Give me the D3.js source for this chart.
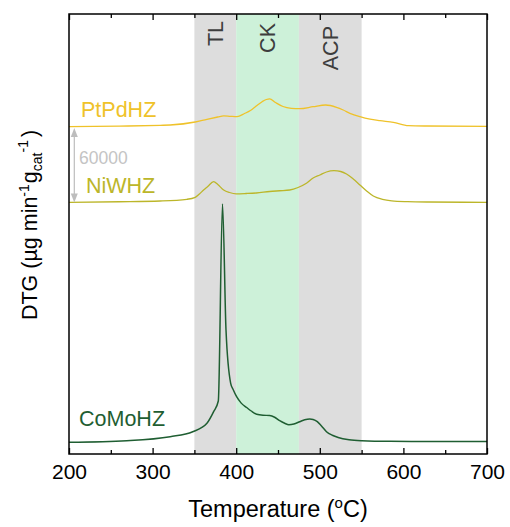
<!DOCTYPE html>
<html>
<head>
<meta charset="utf-8">
<script src="https://cdn.jsdelivr.net/npm/d3@7"></script>
<style>
  html, body { margin: 0; padding: 0; background: #fff; }
  svg { display: block; font-family: "Liberation Sans", Arial, sans-serif; }
</style>
</head>
<body>
<svg id="chart" width="510" height="527"></svg>
<script>
// Temperature regions (°C)
const regionNames = ["TL", "CK", "ACP"];
const regionStart = [350, 400, 475];
const regionEnd   = [400, 475, 550];

// DTG traces, µg min^-1 g_cat^-1 (temperature, value)
const coMoT = [200, 269, 321, 348, 365, 373, 378.6, 383.6, 387.8, 393.4, 396.6, 400.5, 406, 412.5, 418, 424.5, 432, 440, 446, 452, 458, 463, 469, 476, 482, 488, 492, 497, 502, 508, 515, 522, 535, 550, 584, 640, 700];
const coMoV = [160, 1440, 4640, 8640, 15360, 24640, 33200, 190800, 90000, 47360, 42000, 36640, 31500, 28000, 25200, 22560, 21800, 21600, 20200, 17440, 15400, 14240, 14800, 16640, 18200, 18800, 18400, 16640, 13200, 8640, 5800, 4000, 2200, 1440, 960, 850, 800];

const niWT = [200, 260, 309, 341, 351, 356, 361, 366, 373, 378, 385, 392, 400, 412, 424, 440, 452, 464, 474, 484, 492, 500, 508, 517, 525, 532, 540, 548, 556, 564, 575, 586, 605, 630, 700];
const niWV = [160, 600, 1200, 2560, 4160, 6800, 10000, 12800, 16640, 14400, 10000, 8000, 6960, 7200, 7600, 8800, 9400, 10000, 12000, 15360, 19600, 22000, 24400, 25440, 24800, 22800, 18800, 14000, 9200, 5200, 2560, 1360, 700, 400, 160];

const ptPdT = [200, 260, 309, 321, 351, 365, 378, 385, 393, 401, 410, 417, 424, 431, 436, 440, 447, 456, 466, 476, 492, 507, 520, 528, 536, 548, 560, 572, 588, 606, 628, 700];
const ptPdV = [640, 1100, 1760, 2000, 4400, 6560, 8400, 9360, 8960, 8640, 11200, 13600, 17200, 20640, 22400, 22960, 20000, 16800, 15360, 15040, 16640, 18000, 16160, 14000, 11360, 8640, 6640, 5440, 4160, 1440, 1200, 960];

const seriesNames = ["PtPdHZ", "NiWHZ", "CoMoHZ"];
const seriesT = [ptPdT, niWT, coMoT];
const seriesV = [ptPdV, niWV, coMoV];
const seriesOffset = [252000, 192000, 0];
const scaleBarValue = 60000;

const xTicks = [200, 300, 400, 500, 600, 700];
const xMinorTicks = [250, 350, 450, 550, 650];

// ---- styling / layout ----
const colors = ["#efc22a", "#bcb62a", "#1f5e32"];
const widths = [1.3, 1.3, 1.5];
const regionFill = ["#dddddd", "#cdf1d9", "#dddddd"];
const margin = { left: 69, top: 14, right: 23, bottom: 73 };
const W = 510, H = 527;
const pw = W - margin.left - margin.right;
const ph = H - margin.top - margin.bottom;

const svg = d3.select("#chart");
const g = svg.append("g").attr("transform", `translate(${margin.left},${margin.top})`);

const x = d3.scaleLinear().domain([200, 700]).range([0, pw]);
const y = d3.scaleLinear().domain([-9200, 342800]).range([ph, 0]);

// shaded regions
g.selectAll("rect.region")
  .data(regionNames)
  .join("rect")
  .attr("class", "region")
  .attr("x", (d, i) => x(regionStart[i]))
  .attr("width", (d, i) => x(regionEnd[i]) - x(regionStart[i]))
  .attr("y", 0)
  .attr("height", ph)
  .attr("fill", (d, i) => regionFill[i]);

// region labels, rotated
const regionLabelTop = [7, 9, 12];
g.selectAll("text.region-label")
  .data(regionNames)
  .join("text")
  .attr("class", "region-label")
  .attr("transform", (d, i) => `translate(${x((regionStart[i] + regionEnd[i]) / 2)},${regionLabelTop[i]}) rotate(-90)`)
  .attr("text-anchor", "end")
  .attr("dy", "0.36em")
  .attr("font-size", 21.5)
  .attr("fill", "#3d3d3d")
  .text(d => d);

// traces
const line = d3.line().curve(d3.curveMonotoneX);
seriesNames.forEach((name, i) => {
  const pts = seriesT[i].map((t, j) => [x(t), y(seriesV[i][j] + seriesOffset[i])]);
  g.append("path")
    .attr("d", line(pts))
    .attr("fill", "none")
    .attr("stroke", colors[i])
    .attr("stroke-width", widths[i])
    .attr("stroke-linejoin", "round");
});

// series labels
const labelPos = [[12, 102.7], [17, 178.7], [10, 412]];
seriesNames.forEach((name, i) => {
  g.append("text")
    .attr("x", labelPos[i][0])
    .attr("y", labelPos[i][1])
    .attr("font-size", 21.5)
    .attr("fill", colors[i])
    .text(name);
});

// scale bar between the two upper baselines
const sbX = 5.3;
const sbTop = y(seriesOffset[0]) + 0.5, sbBot = y(seriesOffset[1]);
const barColor = "#bdbdbd";
g.append("line")
  .attr("x1", sbX).attr("x2", sbX)
  .attr("y1", sbTop + 6).attr("y2", sbBot - 6)
  .attr("stroke", barColor).attr("stroke-width", 1.2);
g.append("path")
  .attr("d", `M${sbX - 3.5},${sbTop + 9}L${sbX},${sbTop}L${sbX + 3.5},${sbTop + 9}Z`)
  .attr("fill", barColor);
g.append("path")
  .attr("d", `M${sbX - 3.5},${sbBot - 9}L${sbX},${sbBot}L${sbX + 3.5},${sbBot - 9}Z`)
  .attr("fill", barColor);
g.append("text")
  .attr("x", 10)
  .attr("y", 150)
  .attr("font-size", 17.5)
  .attr("fill", "#c4c4c4")
  .text(d3.format("d")(scaleBarValue));

// axes: ticks point inward, top axis mirrors the bottom
const axisBottomMajor = g.append("g").attr("transform", `translate(0,${ph})`)
  .call(d3.axisBottom(x).tickValues(xTicks).tickSize(-6).tickPadding(10).tickFormat(d3.format("d")));
axisBottomMajor.select(".domain").remove();
axisBottomMajor.selectAll("text").attr("font-size", 21).attr("fill", "#000").attr("font-family", "Liberation Sans, Arial, sans-serif");
axisBottomMajor.selectAll("line").attr("stroke", "#000").attr("stroke-width", 1.3);

const axisBottomMinor = g.append("g").attr("transform", `translate(0,${ph})`)
  .call(d3.axisBottom(x).tickValues(xMinorTicks).tickSize(-4).tickFormat(""));
axisBottomMinor.select(".domain").remove();
axisBottomMinor.selectAll("line").attr("stroke", "#000").attr("stroke-width", 1.3);

const axisTopMajor = g.append("g")
  .call(d3.axisTop(x).tickValues(xTicks).tickSize(-6).tickFormat(""));
axisTopMajor.select(".domain").remove();
axisTopMajor.selectAll("line").attr("stroke", "#000").attr("stroke-width", 1.3);
const axisTopMinor = g.append("g")
  .call(d3.axisTop(x).tickValues(xMinorTicks).tickSize(-4).tickFormat(""));
axisTopMinor.select(".domain").remove();
axisTopMinor.selectAll("line").attr("stroke", "#000").attr("stroke-width", 1.3);

// frame
g.append("rect")
  .attr("x", 0).attr("y", 0).attr("width", pw).attr("height", ph)
  .attr("fill", "none").attr("stroke", "#000").attr("stroke-width", 1.5);

// x-axis title
const xt = svg.append("text")
  .attr("x", margin.left + pw / 2)
  .attr("y", 517)
  .attr("text-anchor", "middle")
  .attr("font-size", 23.5)
  .attr("fill", "#000");
xt.append("tspan").text("Temperature (");
xt.append("tspan").attr("font-size", 15).attr("dy", -9).text("o");
xt.append("tspan").attr("dy", 9).text("C)");

// y-axis title
const yt = svg.append("text")
  .attr("transform", `translate(37,225) rotate(-90)`)
  .attr("text-anchor", "middle")
  .attr("font-size", 21.5)
  .attr("fill", "#000");
yt.append("tspan").text("DTG (µg min");
yt.append("tspan").attr("font-size", 14).attr("dy", -8).text("-1");
yt.append("tspan").attr("dy", 8).attr("dx", 1).text("g");
yt.append("tspan").attr("font-size", 14).attr("dy", 5).text("cat");
yt.append("tspan").attr("font-size", 14).attr("dy", -14).text("-1");
yt.append("tspan").attr("dy", 9).attr("dx", 3).text(")");
</script>
</body>
</html>
